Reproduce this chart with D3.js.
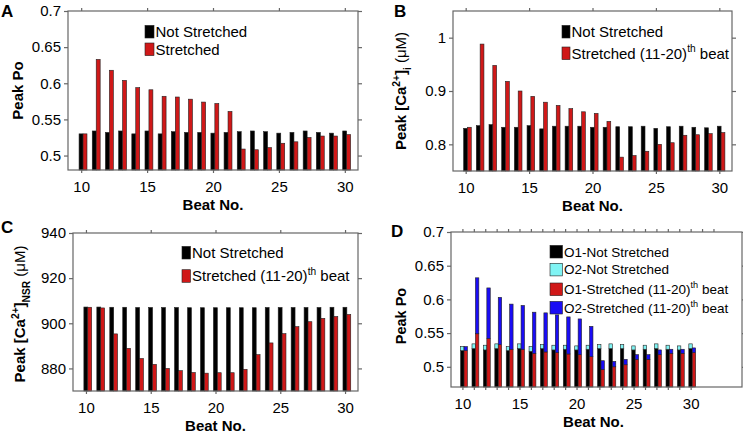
<!DOCTYPE html>
<html>
<meta charset="utf-8">
<title>Peak Po and Ca2+ per beat</title>
<style>
    body { margin: 0; background: #fff; }
    svg text { font-family: "Liberation Sans", Arial, sans-serif; fill: #000; white-space: pre; }
    .box { fill: none; stroke: #666; stroke-width: 1.2px; }
    .axis path { display: none; }
    .axis line { stroke: #666; stroke-width: 1.2px; }
    .bar { stroke: #222; stroke-width: 0.6px; }
</style>
<script src="https://d3js.org/d3.v7.min.js"></script>
<body>
<script>
    // beat numbers on the x axis
    const beats = [10, 11, 12, 13, 14, 15, 16, 17, 18, 19, 20, 21, 22, 23, 24, 25, 26, 27, 28, 29, 30]

    // A: peak open probability
    const poNotStretched = [0.530, 0.534, 0.532, 0.534, 0.530, 0.534, 0.530, 0.533, 0.532, 0.532, 0.531, 0.532, 0.533, 0.534, 0.533, 0.531, 0.532, 0.534, 0.532, 0.531, 0.534]
    const poStretched = [0.530, 0.633, 0.618, 0.604, 0.594, 0.591, 0.582, 0.581, 0.578, 0.574, 0.572, 0.561, 0.509, 0.508, 0.511, 0.517, 0.519, 0.525, 0.527, 0.527, 0.529]

    // B: peak [Ca2+]i (uM)
    const caiNotStretched = [0.830, 0.835, 0.837, 0.832, 0.832, 0.835, 0.829, 0.834, 0.834, 0.834, 0.832, 0.832, 0.833, 0.833, 0.834, 0.830, 0.833, 0.834, 0.832, 0.831, 0.834]
    const caiStretched = [0.832, 0.988, 0.948, 0.918, 0.900, 0.890, 0.879, 0.873, 0.867, 0.861, 0.858, 0.843, 0.776, 0.779, 0.787, 0.800, 0.803, 0.817, 0.818, 0.820, 0.822]

    // C: peak [Ca2+]NSR (uM)
    const nsrNotStretched = [907.2, 907.2, 907.1, 907.1, 907.0, 907.0, 907.0, 907.0, 906.9, 906.9, 906.9, 906.9, 906.9, 906.9, 907.0, 907.0, 907.0, 907.0, 907.0, 907.1, 907.1]
    const nsrStretched = [907.1, 906.8, 895.3, 888.9, 884.4, 881.8, 880.0, 879.0, 878.2, 877.9, 878.1, 878.1, 879.6, 886.1, 891.3, 895.4, 898.5, 900.7, 902.2, 903.0, 903.9]

    // D: open states O1 / O2 (stacked)
    const o1NotStretched = [0.524, 0.527, 0.525, 0.527, 0.524, 0.527, 0.523, 0.527, 0.525, 0.526, 0.525, 0.526, 0.527, 0.527, 0.527, 0.525, 0.526, 0.527, 0.526, 0.525, 0.527]
    const o2NotStretched = [0.006, 0.007, 0.007, 0.007, 0.006, 0.007, 0.007, 0.006, 0.007, 0.006, 0.006, 0.006, 0.006, 0.007, 0.006, 0.006, 0.006, 0.007, 0.006, 0.006, 0.007]
    const o1Stretched = [0.524, 0.549, 0.542, 0.533, 0.526, 0.526, 0.520, 0.522, 0.521, 0.519, 0.518, 0.515, 0.496, 0.500, 0.503, 0.511, 0.511, 0.518, 0.520, 0.520, 0.521]
    const o2Stretched = [0.006, 0.083, 0.075, 0.070, 0.067, 0.065, 0.061, 0.058, 0.056, 0.055, 0.053, 0.045, 0.013, 0.008, 0.008, 0.007, 0.007, 0.007, 0.006, 0.006, 0.007]

    const xTickLabels = [10, 15, 20, 25, 30]

    const BLACK = "#000", RED = "#d01818", CYAN = "#80f4f4", BLUE = "#1a0cf5"

    const svg = d3.select("body").append("svg").attr("width", 743).attr("height", 434)

    // text made of pieces, some raised / lowered
    function richText(sel, parts, size) {
        let t = sel.append("text").style("font-size", size + "px")
        let shift = 0
        parts.forEach(p => {
            let s = p.sup ? -0.42 * size : p.sub ? 0.3 * size : 0
            t.append("tspan")
                .attr("dy", s - shift)
                .style("font-size", (p.sup || p.sub ? 0.68 * size : size) + "px")
                .style("font-weight", p.bold ? "bold" : "normal")
                .text(p.t)
            shift = s
        })
        return t
    }

    function panel(o) {
        let x = d3.scaleLinear().domain(o.xDomain).range([o.x0, o.x1])
        let y = d3.scaleLinear().domain(o.yDomain).range([o.y1, o.y0])
        let g = svg.append("g")

        // bars: each group is a stack of segments, sitting next to each other
        o.groups.forEach(grp => {
            let base = beats.map(() => o.yDomain[0])
            let cum = beats.map(() => 0)
            grp.stack.forEach((seg, si) => {
                g.append("g").selectAll("rect")
                    .data(beats)
                    .join("rect")
                    .attr("class", "bar")
                    .attr("fill", seg.color)
                    .attr("x", d => x(d + grp.off[0]))
                    .attr("width", d => x(d + grp.off[1]) - x(d + grp.off[0]))
                    .attr("y", (d, i) => y(cum[i] + seg.values[i]))
                    .attr("height", (d, i) => {
                        let lo = si == 0 ? base[i] : cum[i]
                        return y(lo) - y(cum[i] + seg.values[i])
                    })
                seg.values.forEach((v, i) => cum[i] += v)
            })
        })

        // box + outward ticks
        g.append("rect").attr("class", "box")
            .attr("x", o.x0).attr("y", o.y0)
            .attr("width", o.x1 - o.x0).attr("height", o.y1 - o.y0)

        let left = g.append("g").attr("class", "axis")
            .attr("transform", `translate(${o.x0},0)`)
            .call(d3.axisLeft(y).tickValues(o.yTicks).tickSize(4).tickPadding(3).tickFormat(d => String(d)))
        left.selectAll("text").style("font-size", "15px").attr("fill", "#000")
        g.append("g").attr("class", "axis")
            .attr("transform", `translate(${o.x1},0)`)
            .call(d3.axisRight(y).tickValues(o.yTicks).tickSize(4).tickFormat(""))
        let bottom = g.append("g").attr("class", "axis")
            .attr("transform", `translate(0,${o.y1})`)
            .call(d3.axisBottom(x).tickValues(o.bottomTicks).tickSize(3).tickPadding(8)
                .tickFormat(d => xTickLabels.includes(d) ? d : ""))
        bottom.selectAll("text").style("font-size", "15px").attr("fill", "#000")
        g.append("g").attr("class", "axis")
            .attr("transform", `translate(0,${o.y0})`)
            .call(d3.axisTop(x).tickValues(o.topTicks).tickSize(3).tickFormat(""))

        // labels
        g.append("text")
            .attr("x", (o.x0 + o.x1) / 2 + (o.xLabelDx || 0)).attr("y", o.y1 + 39.5)
            .attr("text-anchor", "middle")
            .style("font-size", "15px").style("font-weight", "bold")
            .text("Beat No.")
        richText(g, o.yLabel, o.yLabelSize || 15)
            .attr("text-anchor", "middle")
            .attr("transform", `translate(${o.yLabelX},${o.yLabelY || (o.y0 + o.y1) / 2}) rotate(-90)`)
        g.append("text")
            .attr("x", o.letter[1]).attr("y", o.letter[2])
            .style("font-size", "17px").style("font-weight", "bold")
            .text(o.letter[0])

        // legend
        let lg = o.legend
        lg.items.forEach((it, i) => {
            let cy = lg.rows[i]
            g.append("rect").attr("class", "bar")
                .attr("x", lg.x).attr("y", cy - 6.3)
                .attr("width", lg.w).attr("height", 12.6)
                .attr("fill", it.color)
            richText(g, it.parts, lg.size)
                .attr("x", lg.x + lg.w + 1.5).attr("y", cy + lg.size * 0.36)
        })
    }

    const pairOffsets = [[-0.16, 0.14], [0.14, 0.44]]
    const stretchedParts = [{ t: "Stretched (11-20)" }, { t: "th", sup: true }, { t: " beat" }]
    const caLabel = sub => [
        { t: "Peak [Ca", bold: true }, { t: "2+", sup: true, bold: true }, { t: "]", bold: true },
        { t: sub, sub: true, bold: true }, { t: " (\u03bcM)" }
    ]

    panel({
        x0: 68, x1: 358, y0: 11, y1: 170, xDomain: [9, 31], yDomain: [0.48, 0.7],
        yTicks: [0.5, 0.55, 0.6, 0.65, 0.7], bottomTicks: xTickLabels, topTicks: xTickLabels,
        groups: [
            { off: pairOffsets[0], stack: [{ values: poNotStretched, color: BLACK }] },
            { off: pairOffsets[1], stack: [{ values: poStretched, color: RED }] }
        ],
        yLabel: [{ t: "Peak Po", bold: true }], yLabelX: 23,
        letter: ["A", 1, 17],
        legend: {
            x: 145, w: 9, rows: [31.7, 49.3], size: 15,
            items: [
                { color: BLACK, parts: [{ t: "Not Stretched" }] },
                { color: RED, parts: [{ t: "Stretched" }] }
            ]
        }
    })

    panel({
        x0: 453, x1: 732, y0: 11, y1: 171, xDomain: [9, 31], yDomain: [0.75, 1.05],
        yTicks: [0.8, 0.9, 1], bottomTicks: xTickLabels, topTicks: xTickLabels,
        groups: [
            { off: pairOffsets[0], stack: [{ values: caiNotStretched, color: BLACK }] },
            { off: pairOffsets[1], stack: [{ values: caiStretched, color: RED }] }
        ],
        yLabel: caLabel("i"), yLabelX: 406,
        letter: ["B", 394, 17],
        legend: {
            x: 562, w: 8, rows: [31.7, 53.3], size: 15,
            items: [
                { color: BLACK, parts: [{ t: "Not Stretched" }] },
                { color: RED, parts: stretchedParts }
            ]
        }
    })

    panel({
        x0: 73, x1: 358, y0: 233, y1: 391, xDomain: [9, 31], yDomain: [870, 940],
        yTicks: [880, 900, 920, 940], bottomTicks: xTickLabels, topTicks: xTickLabels,
        groups: [
            { off: pairOffsets[0], stack: [{ values: nsrNotStretched, color: BLACK }] },
            { off: pairOffsets[1], stack: [{ values: nsrStretched, color: RED }] }
        ],
        yLabel: caLabel("NSR"), yLabelX: 25, yLabelY: 314,
        letter: ["C", 1, 233],
        legend: {
            x: 182, w: 8.5, rows: [252.7, 276], size: 15,
            items: [
                { color: BLACK, parts: [{ t: "Not Stretched" }] },
                { color: RED, parts: stretchedParts }
            ]
        }
    })

    panel({
        x0: 451, x1: 742, y0: 232, y1: 387, xDomain: [9, 34.5], yDomain: [0.47, 0.7],
        yTicks: [0.5, 0.55, 0.6, 0.65, 0.7],
        bottomTicks: beats,
        topTicks: beats.concat([31, 32]),
        groups: [
            { off: pairOffsets[0], stack: [{ values: o1NotStretched, color: BLACK }, { values: o2NotStretched, color: CYAN }] },
            { off: pairOffsets[1], stack: [{ values: o1Stretched, color: RED }, { values: o2Stretched, color: BLUE }] }
        ],
        yLabel: [{ t: "Peak Po", bold: true }], yLabelX: 406, yLabelY: 316, yLabelSize: 14.5,
        xLabelDx: -3,
        letter: ["D", 391, 237],
        legend: {
            x: 550, w: 12.5, rows: [251.7, 269.6, 289.3, 307.7], size: 13.5,
            items: [
                { color: BLACK, parts: [{ t: "O1-Not Stretched" }] },
                { color: CYAN, parts: [{ t: "O2-Not Stretched" }] },
                { color: RED, parts: [{ t: "O1-Stretched (11-20)" }, { t: "th", sup: true }, { t: " beat" }] },
                { color: BLUE, parts: [{ t: "O2-Stretched (11-20)" }, { t: "th", sup: true }, { t: " beat" }] }
            ]
        }
    })
</script>
</body>
</html>
